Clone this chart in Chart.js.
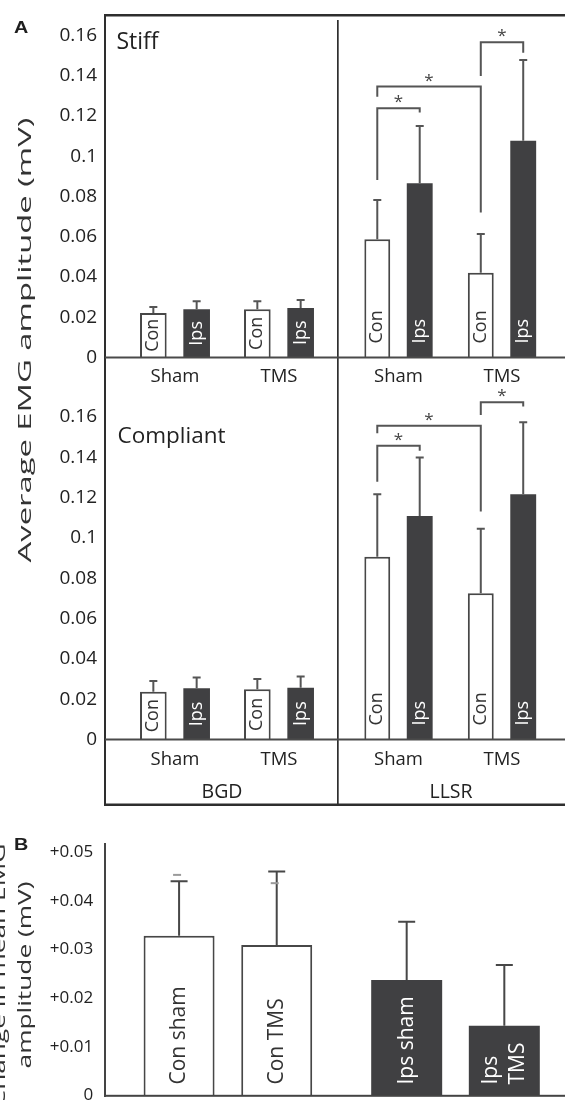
<!DOCTYPE html>
<html>
<head>
<meta charset="utf-8">
<script src="https://cdn.jsdelivr.net/npm/chart.js@4.4.1/dist/chart.umd.min.js"></script>
<style>
html, body { margin:0; padding:0; background:#fff; }
#page { position:relative; width:565px; height:1100px; overflow:hidden; background:#fff; }
#page canvas { position:absolute; }
</style>
</head>
<body>
<div id="page">
  <canvas id="cStiffBGD" width="338" height="390" style="left:0px;top:0px"></canvas>
  <canvas id="cStiffLLSR" width="227" height="390" style="left:338px;top:0px"></canvas>
  <canvas id="cCompBGD" width="338" height="420" style="left:0px;top:380px"></canvas>
  <canvas id="cCompLLSR" width="227" height="420" style="left:338px;top:380px"></canvas>
  <canvas id="cB" width="575" height="300" style="left:0px;top:800px"></canvas>
  <canvas id="overlay" width="565" height="1100" style="left:0px;top:0px;pointer-events:none"></canvas>
</div>
<script>
// ================= DATA =================
// Panel A
const groups = ['Sham', 'TMS'];
const stiffBGDCon     = [0.0221, 0.0240];
const stiffBGDConErr  = [0.0030, 0.0040];
const stiffBGDIps     = [0.0240, 0.0246];
const stiffBGDIpsErr  = [0.0040, 0.0040];
const stiffLLSRCon    = [0.0587, 0.0421];
const stiffLLSRConErr = [0.0196, 0.0193];
const stiffLLSRIps    = [0.0866, 0.1077];
const stiffLLSRIpsErr = [0.0284, 0.0401];
const compBGDCon      = [0.0237, 0.0249];
const compBGDConErr   = [0.0053, 0.0051];
const compBGDIps      = [0.0254, 0.0257];
const compBGDIpsErr   = [0.0053, 0.0055];
const compLLSRCon     = [0.0907, 0.0726];
const compLLSRConErr  = [0.0310, 0.0319];
const compLLSRIps     = [0.1109, 0.1217];
const compLLSRIpsErr  = [0.0290, 0.0357];
const yTicksA      = [0, 0.02, 0.04, 0.06, 0.08, 0.10, 0.12, 0.14, 0.16];
const yTickLabelsA = ['0', '0.02', '0.04', '0.06', '0.08', '0.1', '0.12', '0.14', '0.16'];
// significance brackets: from/to = [categoryIndex, datasetIndex], heights in mV
const stiffBrackets = [
  { from: [0, 0], to: [0, 1], top: 0.1238, leftEnd: 0.0882, rightEnd: 0.1218 },
  { from: [0, 0], to: [1, 0], top: 0.1346, leftEnd: 0.1296, rightEnd: 0.0720 },
  { from: [1, 0], to: [1, 1], top: 0.1566, leftEnd: 0.1399, rightEnd: 0.1514 }
];
const compBrackets = [
  { from: [0, 0], to: [0, 1], top: 0.1457, leftEnd: 0.1279, rightEnd: 0.1433 },
  { from: [0, 0], to: [1, 0], top: 0.1557, leftEnd: 0.1520, rightEnd: 0.1131 },
  { from: [1, 0], to: [1, 1], top: 0.1673, leftEnd: 0.1610, rightEnd: 0.1652 }
];
// Panel B
const bGroups     = ['Con', 'Ips'];
const bSham       = [0.0328, 0.0237];
const bShamErr    = [0.0112, 0.0120];
const bShamGhost  = [0.0453, null];
const bShamText   = ['Con sham', 'Ips sham'];
const bTMS        = [0.0309, 0.0143];
const bTMSErr     = [0.0151, 0.0125];
const bTMSGhost   = [0.0436, null];
const bTMSText    = ['Con TMS', 'Ips TMS'];
const yTicksB      = [0, 0.01, 0.02, 0.03, 0.04, 0.05];
const yTickLabelsB = ['0', '+0.01', '+0.02', '+0.03', '+0.04', '+0.05'];

// ================= STYLE =================
const FONT = "'Open Sans', 'DejaVu Sans', sans-serif";
const DARK = '#404042';
const LINE = '#4a4a4a';
Chart.defaults.font.family = FONT;
Chart.defaults.color = '#222';

function noPad(s) { s.paddingTop = 0; s.paddingBottom = 0; s.paddingLeft = 0; s.paddingRight = 0; }

// ================= PLUGINS =================
const errorBarPlugin = {
  id: 'errorBars',
  afterDatasetsDraw(chart, args, opts) {
    const ctx = chart.ctx, ys = chart.scales.y;
    chart.data.datasets.forEach((ds, di) => {
      if (!ds.errors) return;
      const meta = chart.getDatasetMeta(di);
      meta.data.forEach((bar, i) => {
        const v = ds.data[i], e = ds.errors[i];
        const yTop = ys.getPixelForValue(v + e);
        ctx.save();
        ctx.strokeStyle = opts.color; ctx.lineWidth = opts.width; ctx.lineCap = 'butt';
        ctx.beginPath();
        ctx.moveTo(bar.x, bar.y); ctx.lineTo(bar.x, yTop);
        ctx.moveTo(bar.x - opts.cap / 2, yTop); ctx.lineTo(bar.x + opts.cap / 2, yTop);
        ctx.stroke();
        if (ds.ghost && ds.ghost[i] != null) {
          const yg = ys.getPixelForValue(ds.ghost[i]);
          ctx.strokeStyle = '#9a9a9a'; ctx.lineWidth = 2;
          ctx.beginPath();
          ctx.moveTo(bar.x - 6, yg); ctx.lineTo(bar.x + 2, yg);
          ctx.stroke();
        }
        ctx.restore();
      });
    });
  }
};

const barTextPlugin = {
  id: 'barText',
  afterDatasetsDraw(chart, args, opts) {
    const ctx = chart.ctx;
    chart.data.datasets.forEach((ds, di) => {
      if (!ds.barText) return;
      const meta = chart.getDatasetMeta(di);
      meta.data.forEach((bar, i) => {
        const text = Array.isArray(ds.barText) ? ds.barText[i] : ds.barText;
        const color = Array.isArray(ds.textColor) ? ds.textColor[i] : ds.textColor;
        ctx.save();
        ctx.font = opts.font;
        ctx.fillStyle = color;
        const base = bar.base, h = base - bar.y;
        let lines = [text];
        if (ctx.measureText(text).width > h - 2 * opts.offset && text.indexOf(' ') > 0) lines = text.split(' ');
        const L = Math.max(...lines.map(t => ctx.measureText(t).width));
        let start = opts.offset;
        if (opts.center && h < L + 2 * opts.offset) start = (h - L) / 2;
        ctx.translate(bar.x, base - start);
        ctx.rotate(-Math.PI / 2);
        ctx.textAlign = 'left'; ctx.textBaseline = 'middle';
        lines.forEach((t, k) => ctx.fillText(t, 0, (k - (lines.length - 1) / 2) * opts.lineHeight));
        ctx.restore();
      });
    });
  }
};

const bracketPlugin = {
  id: 'brackets',
  afterDatasetsDraw(chart, args, opts) {
    if (!opts.items || !opts.items.length) return;
    const ctx = chart.ctx, ys = chart.scales.y;
    opts.items.forEach(b => {
      const xa = chart.getDatasetMeta(b.from[1]).data[b.from[0]].x;
      const xb = chart.getDatasetMeta(b.to[1]).data[b.to[0]].x;
      const yt = ys.getPixelForValue(b.top);
      const ya = ys.getPixelForValue(b.leftEnd);
      const yb = ys.getPixelForValue(b.rightEnd);
      ctx.save();
      ctx.strokeStyle = '#555'; ctx.lineWidth = 2;
      ctx.beginPath();
      ctx.moveTo(xa, ya); ctx.lineTo(xa, yt); ctx.lineTo(xb, yt); ctx.lineTo(xb, yb);
      ctx.stroke();
      ctx.fillStyle = '#444';
      ctx.font = '17px ' + FONT;
      ctx.textAlign = 'center'; ctx.textBaseline = 'alphabetic';
      ctx.fillText('*', (xa + xb) / 2, yt - 1);
      ctx.restore();
    });
  }
};

// ================= PANEL A =================
function panelAChart(id, con, conErr, ips, ipsErr, opt) {
  const yScale = {
    display: opt.showY, min: 0, max: 0.16,
    grid: { display: false, drawTicks: false, tickLength: 0 }, border: { display: false },
    afterBuildTicks: s => { s.ticks = yTicksA.map(v => ({ value: v })); },
    ticks: { font: { size: 19 }, color: '#222', padding: 26,
             callback: (v, i) => yTickLabelsA[i] },
    afterFit: s => { if (opt.showY) s.width = 123; noPad(s); }
  };
  return new Chart(document.getElementById(id), {
    type: 'bar',
    data: {
      labels: groups,
      datasets: [
        { label: 'Con', data: con, errors: conErr, barText: 'Con', textColor: '#333',
          backgroundColor: '#fff', borderColor: '#474747', borderWidth: 2 },
        { label: 'Ips', data: ips, errors: ipsErr, barText: 'Ips', textColor: '#fff',
          backgroundColor: DARK, borderWidth: 0 }
      ]
    },
    options: {
      responsive: false, animation: false, devicePixelRatio: 1,
      layout: { autoPadding: false, padding: opt.padding },
      datasets: { bar: { categoryPercentage: opt.catPct, barPercentage: opt.barPct } },
      plugins: {
        legend: { display: false }, tooltip: { enabled: false },
        errorBars: { color: '#555', width: 2, cap: 8 },
        barText: { font: '18px ' + FONT, offset: 14, center: true, lineHeight: 20 },
        brackets: { items: opt.brackets || [] }
      },
      scales: {
        x: {
          grid: { display: false, drawTicks: false, tickLength: 0 }, border: { display: false },
          ticks: { font: { size: 18.5 }, color: '#222', padding: opt.xPad, maxRotation: 0, autoSkip: false },
          afterFit: s => { s.height = opt.xHeight; noPad(s); }
        },
        y: yScale
      }
    },
    plugins: [errorBarPlugin, barTextPlugin, bracketPlugin]
  });
}

panelAChart('cStiffBGD', stiffBGDCon, stiffBGDConErr, stiffBGDIps, stiffBGDIpsErr,
  { padding: { top: 35.5, right: 7, left: 0, bottom: 0 }, catPct: 0.833, barPct: 0.615,
    xPad: 8, xHeight: 32.5, showY: true });
panelAChart('cStiffLLSR', stiffLLSRCon, stiffLLSRConErr, stiffLLSRIps, stiffLLSRIpsErr,
  { padding: { top: 35.5, right: 11.25, left: 8.75, bottom: 0 }, catPct: 0.82, barPct: 0.61,
    xPad: 8, xHeight: 32.5, showY: false, brackets: stiffBrackets });
panelAChart('cCompBGD', compBGDCon, compBGDConErr, compBGDIps, compBGDIpsErr,
  { padding: { top: 37, right: 7, left: 0, bottom: 0 }, catPct: 0.833, barPct: 0.615,
    xPad: 9.5, xHeight: 60.5, showY: true });
panelAChart('cCompLLSR', compLLSRCon, compLLSRConErr, compLLSRIps, compLLSRIpsErr,
  { padding: { top: 37, right: 11.25, left: 8.75, bottom: 0 }, catPct: 0.82, barPct: 0.61,
    xPad: 9.5, xHeight: 60.5, showY: false, brackets: compBrackets });

// ================= PANEL B =================
new Chart(document.getElementById('cB'), {
  type: 'bar',
  data: {
    labels: bGroups,
    datasets: [
      { label: 'sham', data: bSham, errors: bShamErr, ghost: bShamGhost, barText: bShamText,
        textColor: ['#333', '#fff'], backgroundColor: ['#fff', DARK], borderColor: '#474747', borderWidth: [2, 0] },
      { label: 'TMS', data: bTMS, errors: bTMSErr, ghost: bTMSGhost, barText: bTMSText,
        textColor: ['#333', '#fff'], backgroundColor: ['#fff', DARK], borderColor: '#474747', borderWidth: [2, 0] }
    ]
  },
  options: {
    responsive: false, animation: false, devicePixelRatio: 1,
    layout: { autoPadding: false, padding: { top: 52, right: 5.7, left: 0, bottom: 4.5 } },
    datasets: { bar: { categoryPercentage: 0.858, barPercentage: 0.727 } },
    plugins: {
      legend: { display: false }, tooltip: { enabled: false },
      errorBars: { color: '#474747', width: 2, cap: 17 },
      barText: { font: '21px ' + FONT, offset: 11, center: false, lineHeight: 26.7 }
    },
    scales: {
      x: { display: false, afterFit: noPad },
      y: {
        min: 0, max: 0.05,
        grid: { display: false, drawTicks: false, tickLength: 0 }, border: { display: false },
        afterBuildTicks: s => { s.ticks = yTicksB.map(v => ({ value: v })); },
        ticks: { font: { size: 17 }, color: '#222', padding: 21,
                 callback: (v, i) => yTickLabelsB[i] },
        afterFit: s => { s.width = 114.1; noPad(s); }
      }
    }
  },
  plugins: [errorBarPlugin, barTextPlugin]
});

// ================= FRAME & STATIC TEXT =================
(function drawOverlay() {
  const c = document.getElementById('overlay');
  const ctx = c.getContext('2d');
  // Panel A frame
  ctx.fillStyle = '#2e2e2e';
  ctx.fillRect(104, 14, 461, 2.5);     // top
  ctx.fillRect(104, 14, 2, 792);       // left
  ctx.fillRect(104, 803.5, 461, 2.5);  // bottom
  ctx.fillRect(337, 20, 1.7, 785);     // divider
  ctx.fillStyle = LINE;
  ctx.fillRect(105, 356.5, 460, 2);    // stiff baseline
  ctx.fillRect(105, 738.5, 460, 2);    // compliant baseline
  // Panel B axes
  ctx.fillStyle = '#444';
  ctx.fillRect(104, 843, 2, 254);
  ctx.fillRect(104, 1094.8, 461, 2);

  // Panel letters (slightly wide bold sans)
  ctx.fillStyle = '#1e1e1e';
  ctx.textBaseline = 'alphabetic';
  ctx.textAlign = 'left';
  function letter(t, x, y) {
    ctx.save();
    ctx.translate(x, y);
    ctx.scale(1.2, 1);
    ctx.font = "bold 16.5px 'Liberation Sans', Arial, sans-serif";
    ctx.fillText(t, 0, 0);
    ctx.restore();
  }
  letter('A', 14, 32.5);
  letter('B', 14, 849.5);

  // Condition labels
  ctx.fillStyle = '#222';
  ctx.font = '23px ' + FONT;
  ctx.fillText('Stiff', 116.5, 49.3);
  ctx.font = '22.5px ' + FONT;
  ctx.fillText('Compliant', 117.5, 443.3);

  ctx.textAlign = 'center';
  ctx.font = '19.5px ' + FONT;
  ctx.fillText('BGD', 222, 798.3);
  ctx.fillText('LLSR', 451, 798.3);

  function vtext(t, cx, cy, size, sx, color) {
    ctx.save();
    ctx.translate(cx, cy);
    ctx.rotate(-Math.PI / 2);
    ctx.scale(sx, 1);
    ctx.font = size + 'px ' + FONT;
    ctx.fillStyle = color;
    ctx.textAlign = 'center'; ctx.textBaseline = 'middle';
    ctx.fillText(t, 0, 0);
    ctx.restore();
  }
  vtext('Average EMG amplitude (mV)', 26, 340, 18, 1.82, '#333');
  vtext('Change in mean EMG', 0, 975, 18, 1.46, '#333');
  vtext('amplitude (mV)', 26, 975, 18, 1.46, '#333');
})();
</script>
</body>
</html>
